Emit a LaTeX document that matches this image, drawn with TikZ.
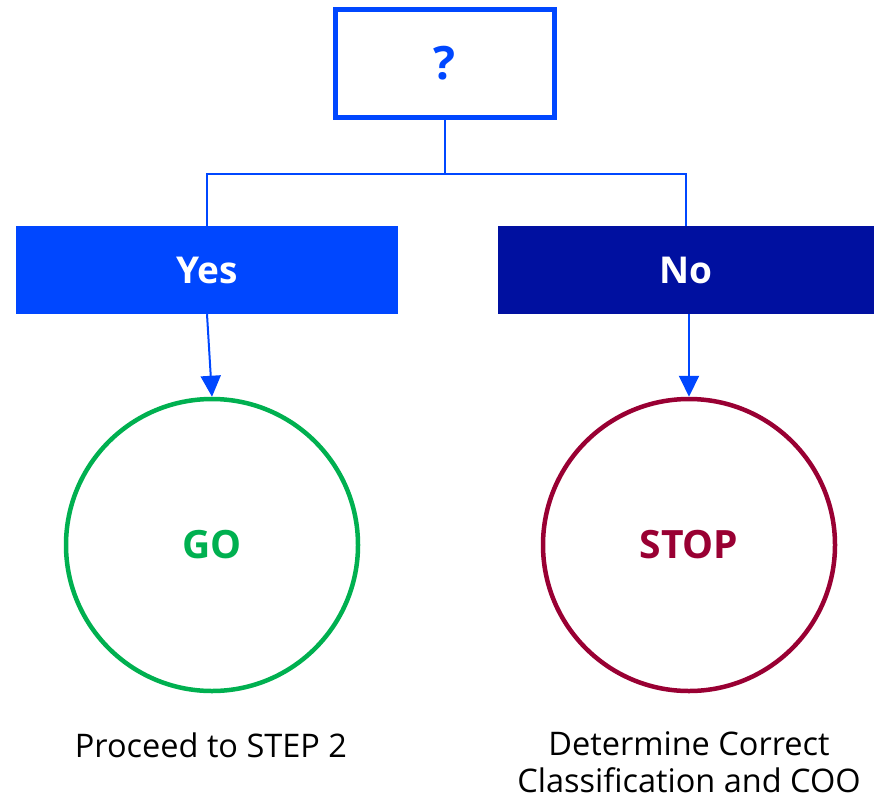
\documentclass[tikz,border=0pt]{standalone}
\usepackage{fontspec}
\setmainfont{Open Sans}
\usetikzlibrary{arrows.meta}
\definecolor{qblue}{HTML}{0047FF}
\definecolor{dblue}{HTML}{0010A0}
\definecolor{ggreen}{HTML}{00B050}
\definecolor{sred}{HTML}{990033}
\tikzset{
  qbox/.style={draw=qblue, line width=5pt, minimum width=219pt, minimum height=108pt, inner sep=0pt, text=qblue, font=\fontsize{46}{50}\selectfont\bfseries},
  ansbox/.style={minimum width=382pt, minimum height=88pt, inner sep=0pt, text=white, font=\fontsize{37}{40}\selectfont\bfseries},
  endcirc/.style={circle, line width=4.5pt, minimum size=292pt, inner sep=0pt, font=\fontsize{39}{44}\selectfont\bfseries},
  caption/.style={align=center, inner sep=0pt, font=\fontsize{32.5}{37}\selectfont},
  conn/.style={draw=qblue, line width=2pt},
  tip/.style={-{Triangle[width=20pt,length=21pt]}, qblue}
}
\begin{document}
\begin{tikzpicture}[x=1pt,y=-1pt]
\useasboundingbox (0,0) rectangle (874,800);
\node[qbox] (q) at (444.5,63.5) {?};
\node[ansbox, fill=qblue] (yes) at (207,270) {Yes};
\node[ansbox, fill=dblue, minimum width=376pt] (no) at (686,270) {No};
\node[endcirc, draw=ggreen, text=ggreen] (go) at (212,545) {GO};
\node[endcirc, draw=sred, text=sred] (stop) at (689,545) {STOP};
\node[caption] (c1) at (211,745) {Proceed to STEP 2};
\node[caption] (c2) at (689,762) {Determine Correct\\Classification and COO};
\draw[conn] (q.south) -- ++(0,54) coordinate (j);
\draw[conn] (yes.north) |- (j) -| (no.north);
\draw[conn, tip] (yes.south) -- (go.north);
\draw[conn, tip] (no.south -| stop.north) -- (stop.north);
\end{tikzpicture}
\end{document}
